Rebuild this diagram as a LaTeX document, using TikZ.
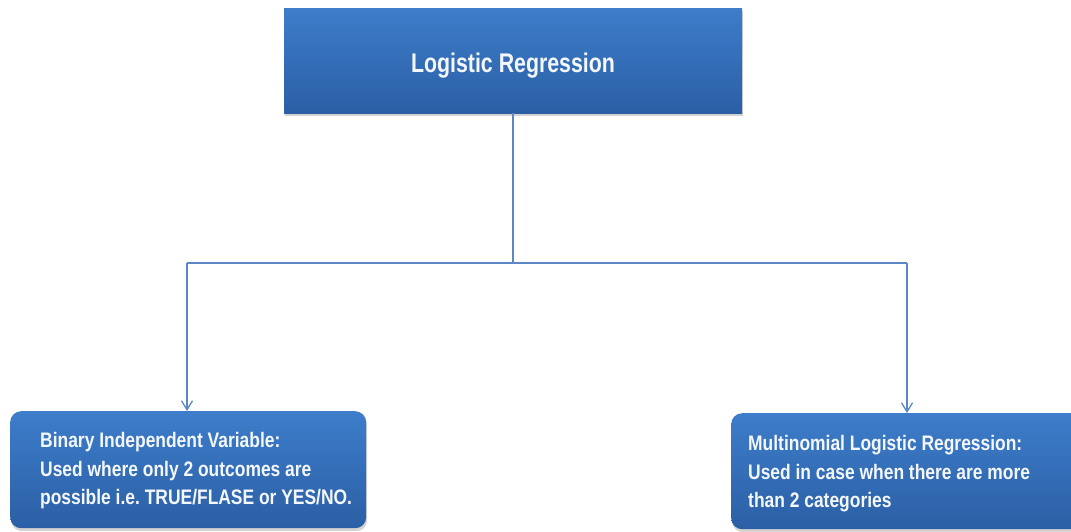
\documentclass[tikz,border=0pt]{standalone}
\usepackage{fontspec}
\setmainfont{Liberation Sans}[FakeStretch=0.79]
\newfontfamily\leaffont{Liberation Sans}[FakeStretch=0.83]
\usetikzlibrary{arrows.meta,shadows}
\definecolor{boxtop}{HTML}{3D7DCA}
\definecolor{boxbot}{HTML}{2B5FA5}
\definecolor{linec}{HTML}{5B87C5}
\definecolor{txt}{HTML}{F4F7FC}
\tikzset{
  topbox/.style={rectangle, top color=boxtop, bottom color=boxbot, draw=none,
    drop shadow={opacity=0.35, shadow xshift=1pt, shadow yshift=-3pt},
    text=txt, font=\fontsize{27}{32}\selectfont\bfseries},
  leafbox/.style={rectangle, rounded corners=11pt, top color=boxtop, bottom color=boxbot, draw=none,
    drop shadow={opacity=0.35, shadow xshift=1pt, shadow yshift=-3pt}},
  leaftext/.style={text=txt, align=left, inner sep=0pt, anchor=base west,
    font=\leaffont\fontsize{21}{28.5}\selectfont\bfseries\frenchspacing},
  conn/.style={draw=linec, line width=1.6pt},
  arr/.style={conn, -{Straight Barb[length=9pt,width=11pt,line width=1.3pt]}}
}
\begin{document}
\begin{tikzpicture}[x=1pt,y=1pt]
\useasboundingbox (0,0) rectangle (1071,-531);
\clip (0,0) rectangle (1071,-531);
\node[topbox, minimum width=458pt, minimum height=105pt, text height=23pt, text depth=0pt] (top) at (513,-60.5) {Logistic Regression};
\node[leafbox, minimum width=356pt, minimum height=117pt, anchor=north west] (left) at (10,-411) {};
\node[leaftext] (lefttext) at (40,-504.5) {Binary Independent Variable:\\Used where only 2 outcomes are\\possible i.e. TRUE/FLASE or YES/NO.};
\node[leafbox, minimum width=356pt, minimum height=116pt, anchor=north west] (right) at (731,-413) {};
\node[leaftext] (righttext) at (748,-507.5) {Multinomial Logistic Regression:\\Used in case when there are more\\than 2 categories};
\coordinate (j) at (513,-263);
\coordinate (jl) at (187,-263);
\coordinate (jr) at (907,-263);
\draw[conn] (top.south) -- (j);
\draw[conn] (jl) -- (jr);
\draw[arr] (jl) -- (jl |- left.north);
\draw[arr] (jr) -- (jr |- right.north);
\end{tikzpicture}
\end{document}
